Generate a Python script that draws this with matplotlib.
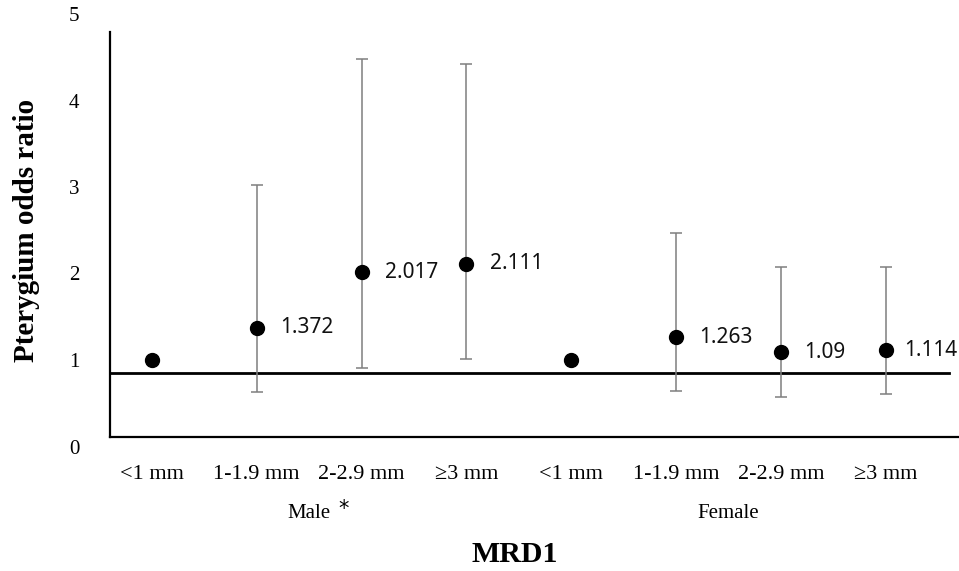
import numpy as np
import matplotlib.pyplot as plt

# MRD1 categories, repeated for male and female
categories = ["<1 mm", "1-1.9 mm", "2-2.9 mm", "\u22653 mm",
              "<1 mm", "1-1.9 mm", "2-2.9 mm", "\u22653 mm"]
groups = ["Male", "Female"]
odds = [1.0, 1.372, 2.017, 2.111, 1.0, 1.263, 1.09, 1.114]
ci_low = [1.0, 0.63, 0.91, 1.01, 1.0, 0.64, 0.57, 0.61]
ci_high = [1.0, 3.02, 4.48, 4.42, 1.0, 2.47, 2.075, 2.075]
labels = ["", "1.372", "2.017", "2.111", "", "1.263", "1.09", "1.114"]
ref_line = 0.85

x = np.arange(len(odds))
odds = np.array(odds)
yerr = [odds - np.array(ci_low), np.array(ci_high) - odds]

fig = plt.figure(figsize=(9.59, 5.71), dpi=100)
ax = fig.add_axes([110 / 959, (571 - 446.5) / 571, 849 / 959, 432.5 / 571])

ax.errorbar(x, odds, yerr=yerr, fmt="none", ecolor="#7f7f7f",
            elinewidth=1.1, capsize=4.5, capthick=1.1, zorder=2)
ax.plot(x, odds, "o", color="black", markersize=10, zorder=3)
ax.axhline(ref_line, xmin=0, xmax=(7.6 + 0.4) / 8.1, color="black", lw=2, zorder=1)

for i, (xi, yi, lab) in enumerate(zip(x, odds, labels)):
    if lab:
        # last label sits a bit closer so it fits at the right edge
        dx = 13 if i == len(labels) - 1 else 17
        ax.annotate(lab, (xi, yi), xytext=(dx, 0), textcoords="offset points",
                    va="center", ha="left", fontsize=15, family="Noto Sans",
                    color="#111111")

ax.set_xlim(-0.4, 7.7)
ax.set_ylim(0, 5)

for s in ["top", "right"]:
    ax.spines[s].set_visible(False)
ax.spines["left"].set_bounds(0.11, 4.79)
ax.spines["bottom"].set_position(("data", 0.11))
ax.spines["left"].set_linewidth(1.6)
ax.spines["bottom"].set_linewidth(1.6)

ax.set_yticks(range(6))
ax.set_yticklabels([str(i) for i in range(6)], family="Liberation Serif", fontsize=15)
ax.tick_params(axis="y", length=0, pad=22)
ax.set_xticks(x)
ax.set_xticklabels(categories, family="Liberation Serif", fontsize=16)
ax.tick_params(axis="x", length=0, pad=20)

for gi, g in enumerate(groups):
    center = gi * 4 + 1.5
    ax.annotate(g, (center, 0), xycoords=("data", "axes fraction"),
                xytext=(0, -48), textcoords="offset points", ha="center",
                va="center", family="Liberation Serif", fontsize=15)
ax.annotate("*", (1.5, 0), xycoords=("data", "axes fraction"),
            xytext=(25, -45), textcoords="offset points", ha="center",
            va="center", family="DejaVu Sans", fontsize=15)

fig.text(515 / 959, 1 - 555 / 571, "MRD1", ha="center", va="center",
         family="Liberation Serif", fontweight="bold", fontsize=21.5)
fig.text(27 / 959, 1 - 230 / 571, "Pterygium odds ratio", ha="center",
         va="center", rotation=90, family="Liberation Serif",
         fontweight="bold", fontsize=21)

fig.savefig("out.png", dpi=100, facecolor="white")
